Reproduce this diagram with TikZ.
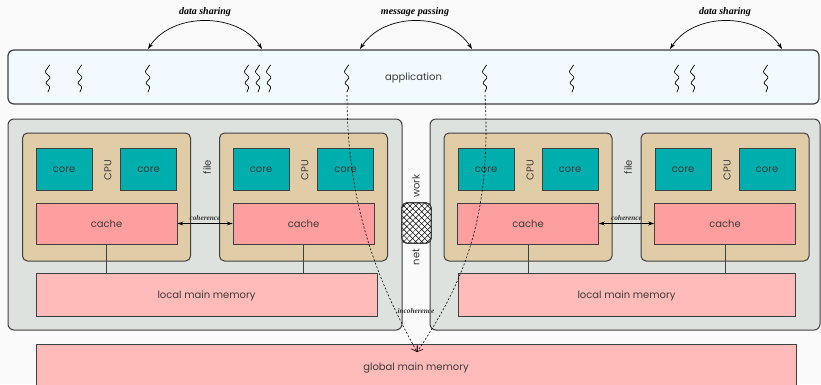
\documentclass[tikz,border=0pt]{standalone}
\usepackage{fontspec}
\setmainfont{Poppins}
\newfontfamily\lblfont{Liberation Serif}
\usetikzlibrary{arrows.meta,patterns.meta}
\definecolor{bgc}{RGB}{250,250,250}
\definecolor{appc}{RGB}{240,250,255}
\definecolor{grayc}{RGB}{222,226,222}
\definecolor{tanc}{RGB}{224,204,166}
\definecolor{corec}{RGB}{0,174,174}
\definecolor{cachec}{RGB}{255,158,158}
\definecolor{memc}{RGB}{255,186,186}
\definecolor{linec}{RGB}{64,64,64}
\definecolor{txtc}{RGB}{60,60,60}
\tikzset{
  box/.style={draw=linec, line width=0.8pt, inner sep=0pt, text=txtc, font=\fontsize{10}{11}\selectfont, text height=7pt, text depth=0pt},
  corebox/.style={box, fill=corec, minimum width=56pt, minimum height=42pt},
  cachebox/.style={box, fill=cachec, minimum width=141pt, minimum height=41pt},
  membox/.style={box, fill=memc, minimum height=43pt},
  cpubox/.style={box, fill=tanc, rounded corners=5pt, line width=1pt, minimum width=168pt, minimum height=128pt},
  nodebox/.style={box, fill=grayc, rounded corners=6pt, line width=1pt, minimum height=211pt},
  appbox/.style={box, fill=appc, rounded corners=6pt, line width=1.2pt, minimum width=811pt, minimum height=54pt},
  netbox/.style={draw=linec, line width=0.8pt, fill=white, rounded corners=5pt, minimum width=29pt, minimum height=40pt, inner sep=0pt},
  rotlbl/.style={rotate=90, text=txtc, inner sep=0pt, font=\fontsize{10}{11}\selectfont},
  toplbl/.style={font=\lblfont\bfseries\itshape\fontsize{10}{11}\selectfont, text=black, inner sep=0pt},
  smalllbl/.style={font=\lblfont\bfseries\itshape\fontsize{7.3}{8}\selectfont, text=black!80, inner sep=0pt},
  sharearrow/.style={line width=0.7pt, {Stealth[length=6pt,width=4pt]}-{Stealth[length=6pt,width=4pt]}},
  coharrow/.style={line width=0.8pt, {Stealth[length=6pt,width=4pt]}-{Stealth[length=6pt,width=4pt]}},
  dashline/.style={line width=0.6pt, dash pattern=on 2pt off 1.8pt, -{Straight Barb[length=5pt,width=7pt]}},
  link/.style={draw=linec, line width=0.7pt},
  thread/.pic={\draw[line width=0.7pt, line join=round, line cap=round, rounded corners=1pt] (1.5,0) -- (-3,7) -- (2.5,12.5) -- (-2.5,18) -- (2,22) -- (0,27);},
}
\begin{document}
\begin{tikzpicture}[x=1pt,y=-1pt]
\fill[bgc] (0,0) rectangle (821,384);
\useasboundingbox (0,0) rectangle (821,384);

% application
\node[appbox] (app) at (413.5,77) {application};
\foreach \tx in {48,80,148,247,258,269,347,485,572,677,693,766}
  \pic at (\tx,65) {thread};

% node boxes
\node[nodebox, minimum width=394pt] (nodeL) at (205,224.5) {};
\node[nodebox, minimum width=390pt] (nodeR) at (625,224.5) {};

% CPUs
\node[cpubox] (cpuA) at (106.5,197) {};
\node[cpubox] (cpuB) at (303.5,197) {};
\node[cpubox] (cpuC) at (528,197) {};
\node[cpubox] (cpuD) at (725,197) {};

\node[corebox] (c1) at (64,169) {core};
\node[corebox] (c2) at (148.5,169) {core};
\node[corebox] (c3) at (261,169) {core};
\node[corebox] (c4) at (345.5,169) {core};
\node[corebox] (c5) at (486,169) {core};
\node[corebox] (c6) at (570,169) {core};
\node[corebox] (c7) at (683,169) {core};
\node[corebox] (c8) at (767,169) {core};

\node[rotlbl] (cpulA) at (108,170) {CPU};
\node[rotlbl] (cpulB) at (305,170) {CPU};
\node[rotlbl] (cpulC) at (530,170) {CPU};
\node[rotlbl] (cpulD) at (727,170) {CPU};
\node[rotlbl] (fileL) at (207,167) {file};
\node[rotlbl] (fileR) at (628,167) {file};

\node[cachebox] (kA) at (106.5,223.5) {cache};
\node[cachebox] (kB) at (303.5,223.5) {cache};
\node[cachebox] (kC) at (528,223.5) {cache};
\node[cachebox] (kD) at (725,223.5) {cache};

\node[membox, minimum width=341pt] (lmL) at (206.5,294.5) {local main memory};
\node[membox, minimum width=337pt] (lmR) at (626.5,294.5) {local main memory};

\draw[link] (kA.south) -- (kA.south |- lmL.north);
\draw[link] (kB.south) -- (kB.south |- lmL.north);
\draw[link] (kC.south) -- (kC.south |- lmR.north);
\draw[link] (kD.south) -- (kD.south |- lmR.north);

\draw[coharrow] (kA.east) -- node[smalllbl, above=3pt] {coherence} (kB.west);
\draw[coharrow] (kC.east) -- node[smalllbl, above=3pt] {coherence} (kD.west);

% global memory
\node[membox, minimum width=760pt, minimum height=46pt] (gm) at (416,367) {global main memory};

% network
\node[netbox] (net) at (416.5,223) {};
\path[pattern={Lines[angle=45,distance=4.2pt,line width=0.5pt]}, pattern color=black, rounded corners=5pt] (net.south west) rectangle (net.north east);
\path[pattern={Lines[angle=-45,distance=4.2pt,line width=0.5pt]}, pattern color=black, rounded corners=5pt] (net.south west) rectangle (net.north east);
\draw[draw=linec, line width=0.8pt, rounded corners=5pt] (net.south west) rectangle (net.north east);
\node[rotlbl] (netw) at (416,186) {work};
\node[rotlbl] (netn) at (416,257) {net};

% incoherence paths
\coordinate (tA) at (347,95);
\coordinate (tB) at (485,95);
\coordinate (gmIn) at (417,352);
\draw[dashline] (tA) .. controls (347,210) and (380,285) .. (gmIn);
\draw[dashline] (tB) .. controls (492,220) and (462,285) .. (gmIn);
\node[smalllbl] (incoh) at (416,311) {incoherence};

% top arrows
\coordinate (s1a) at (148,49);
\coordinate (s1b) at (262,49);
\coordinate (s2a) at (360,49);
\coordinate (s2b) at (472,49);
\coordinate (s3a) at (670,49);
\coordinate (s3b) at (782,49);
\draw[sharearrow] (s1a) .. controls (172,12) and (238,12) .. (s1b);
\draw[sharearrow] (s2a) .. controls (384,12) and (448,12) .. (s2b);
\draw[sharearrow] (s3a) .. controls (694,12) and (758,12) .. (s3b);
\node[toplbl] (l1) at (205,12) {data sharing};
\node[toplbl] (l2) at (415,12) {message passing};
\node[toplbl] (l3) at (725,12) {data sharing};
\end{tikzpicture}
\end{document}
